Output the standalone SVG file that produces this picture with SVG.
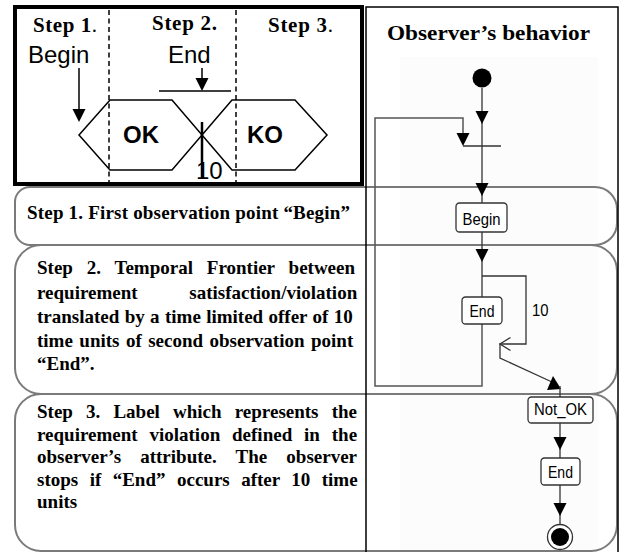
<svg xmlns="http://www.w3.org/2000/svg" width="621" height="552" viewBox="0 0 621 552">
<style>
.band{fill:none;stroke:#7a7a7a;stroke-width:2}
.serif{font-family:"Liberation Serif","Times New Roman",serif;font-weight:bold;fill:#000}
.para{font-size:19px}
.head{font-size:21px}
.sans{font-family:"Liberation Sans",Arial,sans-serif;fill:#000}
.big{font-size:24px}
.hex{fill:none;stroke:#000;stroke-width:1.5}
.dash{stroke:#000;stroke-width:1.5;stroke-dasharray:5 3.5}
.uml{fill:none;stroke:#333;stroke-width:1.3}
.loop{fill:none;stroke:#555;stroke-width:1.5}
.box{fill:#fff;stroke:#333;stroke-width:1.3}
.lbl{font-size:17px;text-anchor:middle}
</style>
<defs>
  <!-- filled arrowhead, tip at the origin, pointing down -->
  <path id="ah" d="M-6.5,-13 L6.5,-13 L0,0 Z" fill="#000"/>
</defs>

<rect width="621" height="552" fill="#fff"/>
<rect x="400" y="57" width="198" height="495" fill="#fcfcfc"/>

<!-- explanation bands -->
<g id="band1">
  <path class="band" d="M30,187 H595 A22,22 0 0 1 617,209 V223 A22,22 0 0 1 595,245 H30 A15,15 0 0 1 15,230 V202 A15,15 0 0 1 30,187 Z"/>
  <text class="serif para" x="27" y="219" textLength="323" lengthAdjust="spacing">Step 1. First observation point “Begin”</text>
</g>
<g id="band2">
  <path class="band" d="M41,245 H591 A26,26 0 0 1 617,271 V368 A26,26 0 0 1 591,394 H41 A26,26 0 0 1 15,368 V271 A26,26 0 0 1 41,245 Z"/>
  <text class="serif para" x="37" y="274" word-spacing="9.1">Step 2. Temporal Frontier between</text>
  <text class="serif para" x="37" y="299" word-spacing="47">requirement satisfaction/violation</text>
  <text class="serif para" x="37" y="323" word-spacing="0.6">translated by a time limited offer of 10</text>
  <text class="serif para" x="37" y="347" word-spacing="1.7">time units of second observation point</text>
  <text class="serif para" x="37" y="370">“End”.</text>
</g>
<g id="band3">
  <path class="band" d="M41,394 H591 A26,26 0 0 1 617,420 V525 A26,26 0 0 1 591,551 H41 A26,26 0 0 1 15,525 V420 A26,26 0 0 1 41,394 Z"/>
  <text class="serif para" x="37" y="418" word-spacing="8.4">Step 3. Label which represents the</text>
  <text class="serif para" x="37" y="441" word-spacing="7.1">requirement violation defined in the</text>
  <text class="serif para" x="37" y="463" word-spacing="14.4">observer’s attribute. The observer</text>
  <text class="serif para" x="37" y="486" word-spacing="6.7">stops if “End” occurs after 10 time</text>
  <text class="serif para" x="37" y="508">units</text>
</g>

<!-- right panel: observer's behaviour -->
<g id="panel">
  <rect x="366" y="7" width="252" height="550" fill="none" stroke="#000" stroke-width="1.5"/>
  <text class="serif head" x="387" y="40" textLength="203" lengthAdjust="spacingAndGlyphs">Observer’s behavior</text>
</g>

<g id="connectors">
  <!-- main flow -->
  <path class="uml" d="M482,88 V203"/>
  <use href="#ah" x="482" y="124"/>
  <use href="#ah" x="482" y="196"/>
  <path class="uml" d="M463,146 H501"/>
  <!-- loop back from End to the join bar -->
  <path class="loop" d="M482,324 V386 H375 V118 H463 V140"/>
  <use href="#ah" x="463" y="146"/>
  <!-- Begin to End -->
  <path class="uml" d="M482,232 V297"/>
  <use href="#ah" x="482" y="262"/>
  <!-- timeout branch -->
  <path class="uml" d="M482,276 H526 V344 H500 V358 L552,382"/>
  <path class="uml" d="M510.5,337.5 L500,344 L510.5,350.5"/>
  <path d="M553,376 L547,390 L561,389 Z" fill="#000"/>
  <path class="uml" d="M560,386 V397"/>
  <!-- Not_OK to End to final -->
  <path class="uml" d="M560,423 V458"/>
  <use href="#ah" x="560" y="450"/>
  <path class="uml" d="M560,485 V524"/>
  <use href="#ah" x="560" y="516"/>
</g>

<g id="initial">
  <circle cx="482" cy="78" r="9.5" fill="#000"/>
</g>
<g id="begin">
  <rect class="box" x="456" y="203" width="51" height="29" rx="3.5"/>
  <text class="sans lbl" x="481.5" y="224.5" textLength="38" lengthAdjust="spacingAndGlyphs">Begin</text>
</g>
<g id="end1">
  <rect class="box" x="462" y="297" width="40" height="27" rx="3.5"/>
  <text class="sans lbl" x="482" y="317" textLength="25" lengthAdjust="spacingAndGlyphs">End</text>
</g>
<g id="timeout">
  <text class="sans" font-size="16" x="532" y="316" textLength="16.5" lengthAdjust="spacingAndGlyphs">10</text>
</g>
<g id="notok">
  <rect class="box" x="528" y="397" width="65" height="26" rx="3.5"/>
  <text class="sans lbl" x="560.5" y="415" textLength="53" lengthAdjust="spacingAndGlyphs">Not_OK</text>
</g>
<g id="end2">
  <rect class="box" x="541" y="458" width="39" height="27" rx="3.5"/>
  <text class="sans lbl" x="560.5" y="477.5" textLength="25" lengthAdjust="spacingAndGlyphs">End</text>
</g>
<g id="final">
  <circle cx="560" cy="537" r="12.5" fill="#fff" stroke="#333" stroke-width="1.3"/>
  <circle cx="560" cy="537" r="9" fill="#000"/>
</g>

<!-- legend box: steps along the time line -->
<g id="legend">
  <rect x="15" y="7" width="347" height="177" fill="none" stroke="#000" stroke-width="4"/>
  <line class="dash" x1="109" y1="10" x2="109" y2="187"/>
  <line class="dash" x1="236" y1="10" x2="236" y2="187"/>
  <text class="serif head" x="33" y="32" textLength="64">Step 1<tspan font-weight="normal">.</tspan></text>
  <text class="serif head" x="152" y="30" textLength="65">Step 2.</text>
  <text class="serif head" x="268" y="32" textLength="65">Step 3<tspan font-weight="normal">.</tspan></text>
  <text class="sans big" x="28" y="63">Begin</text>
  <text class="sans big" x="168" y="63">End</text>
  <path d="M79,68 V110" stroke="#000" stroke-width="1.5"/>
  <use href="#ah" x="79" y="122"/>
  <path d="M202,68 V80" stroke="#000" stroke-width="1.5"/>
  <use href="#ah" x="202" y="91"/>
  <path d="M159,91 H231" stroke="#000" stroke-width="1.5"/>
  <polygon class="hex" points="79,135 110,100 172,100 202,135 172,170 110,170"/>
  <polygon class="hex" points="202,135 232,100 295,100 327,135 295,170 232,170"/>
  <path d="M202,122 V178" stroke="#000" stroke-width="2.5"/>
  <text class="sans big" font-weight="bold" x="123" y="143">OK</text>
  <text class="sans big" font-weight="bold" x="247" y="143">KO</text>
  <text class="sans big" x="196" y="179">10</text>
</g>
</svg>
